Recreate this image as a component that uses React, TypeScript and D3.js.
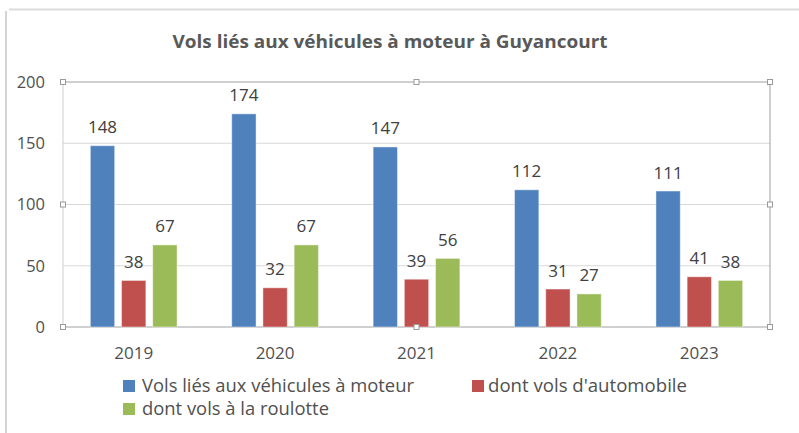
import React from "react";
import * as d3 from "d3";

const years = ["2019", "2020", "2021", "2022", "2023"];
const seriesNames = [
  "Vols liés aux véhicules à moteur",
  "dont vols d'automobile",
  "dont vols à la roulotte",
];
const vehicules = [148, 174, 147, 112, 111];
const automobile = [38, 32, 39, 31, 41];
const roulotte = [67, 67, 56, 27, 38];
const colors = ["#4F81BD", "#C0504D", "#9BBB59"];
const yTicks = [0, 50, 100, 150, 200];
const title = "Vols liés aux véhicules à moteur à Guyancourt";

const W = 799;
const H = 433;
const font = "'Open Sans', 'DejaVu Sans', sans-serif";

export default function App() {
  const left = 63, right = 770, top = 82, bottom = 327;
  const x0 = d3.scaleBand<string>().domain(years).range([left, right]).padding(0);
  const half = x0.bandwidth() * 0.331;
  const x1 = d3
    .scaleBand<string>()
    .domain(seriesNames)
    .range([-half, half])
    .paddingInner(0.22)
    .paddingOuter(0.11);
  const y = d3.scaleLinear().domain([0, 200]).range([bottom, top]);
  const data = [vehicules, automobile, roulotte];

  const midX = (left + right) / 2;
  const midY = y(100);
  const handles: [number, number][] = [
    [left, top], [midX, top], [right, top],
    [right, midY], [left, midY],
    [left, bottom], [midX, bottom], [right, bottom],
  ];

  const legend = [
    { i: 0, x: 123, y: 380, tx: 142, ty: 391.5, len: 272 },
    { i: 1, x: 472, y: 380, tx: 488, ty: 391.5, len: 199 },
    { i: 2, x: 123, y: 403, tx: 142, ty: 414.5, len: 187 },
  ];

  return (
    <svg
      width={W}
      height={H}
      style={{ position: "absolute", left: 0, top: 0, background: "#fff" }}
      fontFamily={font}
    >
      {/* outer frame */}
      <line x1={9} x2={W} y1={9.5} y2={9.5} stroke="#dcdcdc" strokeWidth={2} />
      <line x1={6} x2={6} y1={11} y2={H} stroke="#d4d4d4" strokeWidth={2} />

      <text
        x={390}
        y={48}
        textAnchor="middle"
        fontSize={18.5}
        fontWeight="bold"
        fill="#595959"
        textLength={435}
        lengthAdjust="spacingAndGlyphs"
      >
        {title}
      </text>

      {/* gridlines */}
      {yTicks.map((t) => (
        <line
          key={t}
          x1={left}
          x2={right}
          y1={y(t)}
          y2={y(t)}
          stroke={t === 0 || t === 200 ? "#a0a0a0" : "#d9d9d9"}
          strokeWidth={1}
        />
      ))}
      <line x1={left} x2={left} y1={top} y2={bottom} stroke="#cfcfcf" />
      <line x1={right} x2={right} y1={top} y2={bottom} stroke="#a0a0a0" />

      {/* y tick labels */}
      {yTicks.map((t) => (
        <text
          key={t}
          x={45}
          y={y(t)}
          dy="0.36em"
          textAnchor="end"
          fontSize={16.5}
          fill="#505050"
        >
          {t}
        </text>
      ))}

      {/* bars */}
      {years.map((yr, j) => {
        const cx = (x0(yr) as number) + x0.bandwidth() / 2;
        return (
          <g key={yr}>
            {seriesNames.map((s, i) => {
              const v = data[i][j];
              const bx = cx + (x1(s) as number);
              return (
                <g key={s}>
                  <rect
                    x={bx}
                    y={y(v)}
                    width={x1.bandwidth()}
                    height={bottom - y(v)}
                    fill={colors[i]}
                    stroke="#ffffff"
                    strokeOpacity={0.45}
                    strokeWidth={1}
                  />
                  <text
                    x={bx + x1.bandwidth() / 2}
                    y={y(v) - 12.5}
                    textAnchor="middle"
                    fontSize={17}
                    fill="#404040"
                  >
                    {v}
                  </text>
                </g>
              );
            })}
            <text x={cx} y={359} textAnchor="middle" fontSize={17} fill="#505050">
              {yr}
            </text>
          </g>
        );
      })}

      {/* selection handles */}
      {handles.map(([hx, hy], k) => (
        <rect
          key={k}
          x={hx - 2.5}
          y={hy - 2.5}
          width={5}
          height={5}
          fill="#fff"
          stroke="#9a9a9a"
          strokeWidth={1}
        />
      ))}

      {/* legend */}
      {legend.map((l) => (
        <g key={l.i}>
          <rect x={l.x} y={l.y} width={12} height={12} fill={colors[l.i]} />
          <text
            x={l.tx}
            y={l.ty}
            fontSize={18}
            fill="#505050"
            textLength={l.len}
            lengthAdjust="spacingAndGlyphs"
          >
            {seriesNames[l.i]}
          </text>
        </g>
      ))}
    </svg>
  );
}
